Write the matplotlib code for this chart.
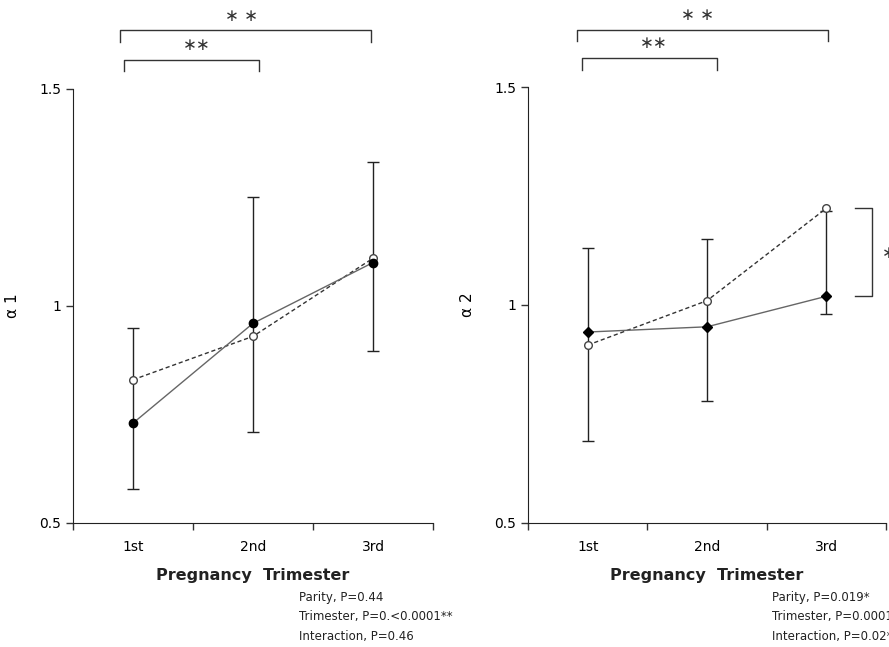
import numpy as np
import matplotlib
matplotlib.use('Agg')
import matplotlib.pyplot as plt

## Data
trimesters = ['1st', '2nd', '3rd']
x_pos = [0.5, 1.5, 2.5]

# alpha 1 panel
a1_filled = [0.73, 0.96, 1.10]
a1_open = [0.83, 0.93, 1.11]
a1_err_lo = [0.578, 0.71, 0.896]
a1_err_hi = [0.95, 1.25, 1.332]
a1_stats = ['Parity, P=0.44', 'Trimester, P=0.<0.0001**', 'Interaction, P=0.46']

# alpha 2 panel
a2_filled = [0.938, 0.95, 1.02]
a2_open = [0.908, 1.01, 1.222]
a2_err_lo = [0.688, 0.78, 0.979]
a2_err_hi = [1.13, 1.151, 1.215]
a2_stats = ['Parity, P=0.019*', 'Trimester, P=0.0001**', 'Interaction, P=0.02*']

## Figure
fig = plt.figure(figsize=(8.89, 6.47), dpi=100)
ax1 = fig.add_axes([0.0821, 0.1917, 0.405, 0.6708])
ax2 = fig.add_axes([0.594, 0.1917, 0.4027, 0.6738])

def bracket(ax, x0, x1, y_top, y_leg, label, lx, ly):
    ax.plot([x0, x0, x1, x1], [y_leg, y_top, y_top, y_leg],
            color='#333333', lw=1, clip_on=False)
    ax.text(lx, ly, label, ha='center', va='center', fontsize=12,
            color='#333333', clip_on=False)

def draw_panel(ax, filled, opn, lo, hi, filled_marker, ylabel, stats,
               stats_x):
    lo = np.array(lo)
    hi = np.array(hi)
    ax.errorbar(x_pos, lo, yerr=[np.zeros(len(lo)), hi - lo], fmt='none',
                ecolor='#222222', elinewidth=1, capsize=4, capthick=1,
                zorder=2)
    ax.plot(x_pos, filled, color='#666666', lw=1, marker=filled_marker,
            markersize=6 if filled_marker == 'o' else 5,
            markerfacecolor='black', markeredgecolor='black', zorder=4)
    ax.plot(x_pos, opn, color='#333333', lw=1, ls=(0, (3, 2)), marker='o',
            markersize=5.5, markerfacecolor='white',
            markeredgecolor='#444444', zorder=3)
    ax.set_xlim(0, 3)
    ax.set_ylim(0.5, 1.5)
    ax.set_yticks([0.5, 1, 1.5])
    ax.set_yticklabels(['0.5', '1', '1.5'], fontsize=10)
    ax.set_xticks([0, 1, 2, 3])
    ax.set_xticklabels([])
    ax.set_xticks(x_pos, minor=True)
    ax.set_xticklabels(trimesters, minor=True, fontsize=10)
    ax.tick_params(axis='x', which='minor', length=0, pad=12)
    ax.tick_params(axis='both', which='major', direction='out', length=5,
                   width=1, color='#333333')
    for side in ['top', 'right']:
        ax.spines[side].set_visible(False)
    for side in ['left', 'bottom']:
        ax.spines[side].set_color('#222222')
    ax.set_xlabel('Pregnancy  Trimester', fontsize=11.5, fontweight='bold',
                  color='#222222', labelpad=10)
    ax.set_ylabel(ylabel, fontsize=11)
    ax.yaxis.set_label_coords(-0.148, 0.5)
    for i, s in enumerate(stats):
        fig.text(stats_x, 0.077 - i * 0.030, s, fontsize=8.5,
                 color='#222222', va='center')

draw_panel(ax1, a1_filled, a1_open, a1_err_lo, a1_err_hi, 'o', 'α 1',
           a1_stats, 0.336)
draw_panel(ax2, a2_filled, a2_open, a2_err_lo, a2_err_hi, 'D', 'α 2',
           a2_stats, 0.868)

## Significance brackets
bracket(ax1, 0.39, 2.48, 1.636, 1.608, '∗ ∗', 1.4, 1.668)
bracket(ax1, 0.425, 1.55, 1.567, 1.541, '∗∗', 1.03, 1.602)
bracket(ax2, 0.41, 2.51, 1.631, 1.606, '∗ ∗', 1.42, 1.666)
bracket(ax2, 0.45, 1.58, 1.567, 1.539, '∗∗', 1.05, 1.601)

# side bracket for parity difference at 3rd trimester
ax2.plot([2.74, 2.88, 2.88, 2.74], [1.222, 1.222, 1.02, 1.02],
         color='#333333', lw=1, clip_on=False)
ax2.text(2.965, 1.12, '∗', fontsize=12, ha='left', va='center',
         color='#333333', clip_on=False)

fig.savefig('out.png', dpi=100)
